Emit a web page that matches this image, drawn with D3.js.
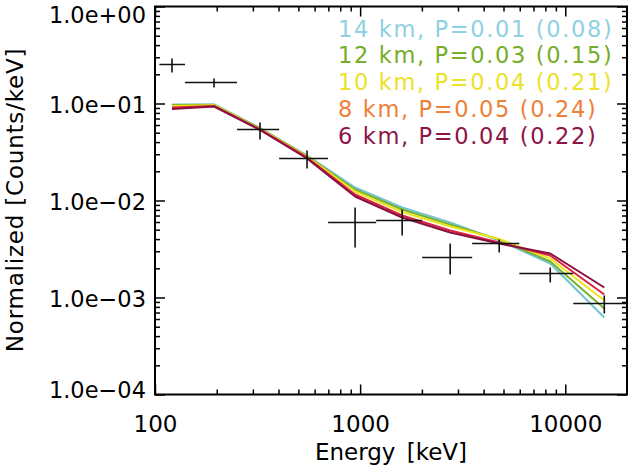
<!DOCTYPE html>
<html><head><meta charset="utf-8">
<script src="https://cdn.jsdelivr.net/npm/d3@7"></script>
<style>body{margin:0;background:#fff}svg{display:block}</style>
</head><body>
<svg id="c" width="630" height="470"></svg>
<script>
// ---- data ----
const energy = [121, 194, 325, 551, 945, 1603, 2748, 4764, 8450, 15500];
const energyLo = [105, 140, 251, 403, 698, 1197, 2006, 3517, 5970, 10940];
const energyHi = [140, 251, 403, 698, 1197, 2006, 3517, 5970, 10940, 22000];
const counts = [0.252, 0.1646, 0.054, 0.0271, 0.00593, 0.00622, 0.00258, 0.00360, 0.00177, 0.000867];
const countsLo = [0.209, 0.146, 0.0426, 0.0214, 0.00328, 0.00436, 0.00173, 0.00291, 0.00143, 0.000684];
const countsHi = [0.291, 0.181, 0.0637, 0.0327, 0.00847, 0.00808, 0.00360, 0.00396, 0.00204, 0.00105];

const model14 = [0.0977, 0.0977, 0.0559, 0.0291, 0.01361, 0.00847, 0.00593, 0.00387, 0.00224, 0.000622];
const model12 = [0.0965, 0.0970, 0.0553, 0.0287, 0.01298, 0.00808, 0.00566, 0.00396, 0.00235, 0.000771];
const model10 = [0.0942, 0.0960, 0.0547, 0.0284, 0.01239, 0.00761, 0.00540, 0.00401, 0.00252, 0.000931];
const model8  = [0.0909, 0.0945, 0.0540, 0.0278, 0.01153, 0.00700, 0.00491, 0.00369, 0.00271, 0.001074];
const model6  = [0.0878, 0.0931, 0.0533, 0.0271, 0.01100, 0.00668, 0.00468, 0.00360, 0.00284, 0.001268];

const seriesNames = ["14 km, P=0.01 (0.08)", "12 km, P=0.03 (0.15)", "10 km, P=0.04 (0.21)", "8 km, P=0.05 (0.24)", "6 km, P=0.04 (0.22)"];
const seriesValues = [model14, model12, model10, model8, model6];
const lineColors = ["#72c3d3", "#78b22c", "#ece41a", "#d9233f", "#8a1042"];
const legendColors = ["#8fd0e2", "#76ad2a", "#ece22a", "#ef8038", "#8c1446"];

const xTicks = [100, 1000, 10000];
const xTickLabels = ["100", "1000", "10000"];
const yTicks = [1e0, 1e-1, 1e-2, 1e-3, 1e-4];
const yTickLabels = ["1.0e+00", "1.0e\u221201", "1.0e\u221202", "1.0e\u221203", "1.0e\u221204"];
const xMinor = [200,300,400,500,600,700,800,900,2000,3000,4000,5000,6000,7000,8000,9000];
const yMinor = [];
[1e-4,1e-3,1e-2,1e-1].forEach(d => { for (let k = 2; k <= 9; k++) yMinor.push(d * k); });

// ---- layout ----
const L = 155, R = 627, T = 6.5, B = 394.5;
const font = "DejaVu Sans, sans-serif";
const svg = d3.select("#c");

const x = d3.scaleLog().domain([100, 20000]).range([L, R]);
const y = d3.scaleLog().domain([1e-4, 1e0]).range([B, T]);

svg.append("defs").append("clipPath").attr("id", "clip")
  .append("rect").attr("x", L).attr("y", T).attr("width", R - L).attr("height", B - T);

function styleAxis(g) {
  g.select(".domain").remove();
  g.selectAll(".tick line").attr("stroke", "#000").attr("stroke-width", 1.5);
}

// minor ticks
svg.append("g").attr("transform", `translate(0,${B})`)
  .call(d3.axisBottom(x).tickValues(xMinor).tickSize(-5).tickFormat(""))
  .call(styleAxis);
svg.append("g").attr("transform", `translate(0,${T})`)
  .call(d3.axisTop(x).tickValues(xMinor).tickSize(-5).tickFormat(""))
  .call(styleAxis);
svg.append("g").attr("transform", `translate(${L},0)`)
  .call(d3.axisLeft(y).tickValues(yMinor).tickSize(-5).tickFormat(""))
  .call(styleAxis);
svg.append("g").attr("transform", `translate(${R},0)`)
  .call(d3.axisRight(y).tickValues(yMinor).tickSize(-5).tickFormat(""))
  .call(styleAxis);

// major ticks
const xb = svg.append("g").attr("transform", `translate(0,${B})`)
  .call(d3.axisBottom(x).tickValues(xTicks).tickSize(-10).tickFormat((d, i) => xTickLabels[i]))
  .call(styleAxis);
xb.selectAll(".tick text").attr("y", 37).attr("dy", 0)
  .attr("font-family", font).attr("font-size", 23).attr("fill", "#000");
svg.append("g").attr("transform", `translate(0,${T})`)
  .call(d3.axisTop(x).tickValues(xTicks).tickSize(-10).tickFormat(""))
  .call(styleAxis);
const yl = svg.append("g").attr("transform", `translate(${L},0)`)
  .call(d3.axisLeft(y).tickValues(yTicks).tickSize(-10).tickFormat((d, i) => yTickLabels[i]))
  .call(styleAxis);
yl.selectAll(".tick text").attr("x", -9)
  .attr("dy", (d, i) => i === 0 ? "0.72em" : (i === yTicks.length - 1 ? "0.13em" : "0.42em"))
  .attr("font-family", font).attr("font-size", 22.5).attr("fill", "#000");
svg.append("g").attr("transform", `translate(${R},0)`)
  .call(d3.axisRight(y).tickValues(yTicks).tickSize(-10).tickFormat(""))
  .call(styleAxis);

// model lines
const line = d3.line().x((d, i) => x(energy[i])).y(d => y(d));
const plot = svg.append("g").attr("clip-path", "url(#clip)");
seriesValues.forEach((vals, k) => {
  plot.append("path").attr("d", line(vals)).attr("fill", "none")
    .attr("stroke", lineColors[k]).attr("stroke-width", 2).attr("stroke-linejoin", "round");
});

// data crosses
const pts = plot.append("g").attr("stroke", "#111").attr("stroke-width", 1.6);
energy.forEach((e, i) => {
  pts.append("line").attr("x1", x(energyLo[i])).attr("x2", x(energyHi[i]))
    .attr("y1", y(counts[i])).attr("y2", y(counts[i]));
  pts.append("line").attr("x1", x(e)).attr("x2", x(e))
    .attr("y1", y(countsLo[i])).attr("y2", y(countsHi[i]));
});

// frame
svg.append("rect").attr("x", L).attr("y", T).attr("width", R - L).attr("height", B - T)
  .attr("fill", "none").attr("stroke", "#000").attr("stroke-width", 2);

// legend
seriesNames.forEach((name, k) => {
  svg.append("text").attr("x", 338).attr("y", 36.7 + k * 26.7)
    .attr("font-family", font).attr("font-size", 22.5).attr("letter-spacing", 1.65)
    .attr("fill", legendColors[k]).text(name);
});

// axis titles
svg.append("text").attr("x", (L + R) / 2).attr("y", 460).attr("text-anchor", "middle")
  .attr("font-family", font).attr("font-size", 23).attr("word-spacing", 4).attr("fill", "#000").text("Energy [keV]");
svg.append("text").attr("transform", "translate(23,200) rotate(-90)").attr("text-anchor", "middle")
  .attr("font-family", font).attr("font-size", 23).attr("letter-spacing", 0.8).attr("fill", "#000")
  .text("Normalized [Counts/keV]");
</script>
</body></html>
